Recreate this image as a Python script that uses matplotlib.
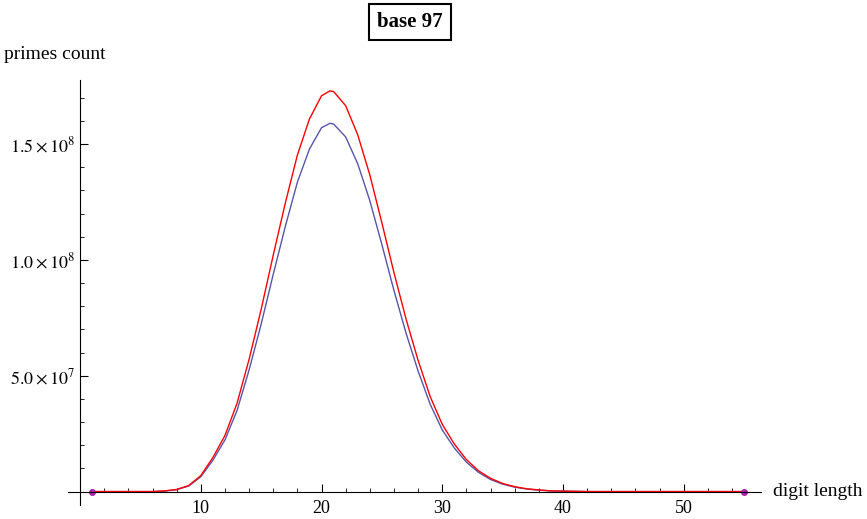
import numpy as np
import matplotlib.pyplot as plt
from matplotlib.ticker import FixedLocator

plt.rcParams['font.family'] = ['Liberation Serif', 'DejaVu Serif']
plt.rcParams['mathtext.fontset'] = 'stix'

digits = [1, 5, 6, 7, 8, 9, 10, 11, 12, 13, 14, 15, 16, 17, 18, 19, 20, 20.7, 21, 22, 23, 24,
          25, 26, 27, 28, 29, 30, 31, 32, 33, 34, 35, 36, 37, 38, 39, 40, 42, 55]
red = [0, 0, 0, 0.003, 0.009, 0.026, 0.069, 0.147, 0.242, 0.381, 0.571, 0.787, 1.021, 1.246,
       1.453, 1.609, 1.709, 1.730, 1.727, 1.666, 1.540, 1.367, 1.160, 0.945, 0.745, 0.566,
       0.410, 0.290, 0.205, 0.138, 0.090, 0.057, 0.035, 0.021, 0.012, 0.007, 0.003, 0.002, 0, 0]
blue = [0, 0, 0, 0.002, 0.008, 0.024, 0.064, 0.135, 0.223, 0.350, 0.525, 0.723, 0.938, 1.145,
        1.336, 1.479, 1.571, 1.590, 1.587, 1.531, 1.415, 1.256, 1.066, 0.868, 0.684, 0.520,
        0.377, 0.266, 0.188, 0.127, 0.083, 0.052, 0.032, 0.019, 0.011, 0.006, 0.003, 0.002, 0, 0]
end_points = [1, 55]

fig = plt.figure(figsize=(8.67, 5.19), dpi=100)
ax = fig.add_axes([68/867, 14/519, 693/867, 425/519])
ax.plot(digits, np.array(blue)*1e8, color='#5555aa', lw=1)
ax.plot(digits, np.array(red)*1e8, color='#ff0000', lw=1)
ax.plot(end_points, [0, 0], 'o', color='#aa22aa', ms=4)

ax.set_xlim(-1, 56.4)
ax.set_ylim(-0.058e8, 1.777e8)
for s in ['top', 'right']:
    ax.spines[s].set_visible(False)
ax.spines['left'].set_position(('data', 0))
ax.spines['bottom'].set_position(('data', 0))
ax.xaxis.set_major_locator(FixedLocator([10, 20, 30, 40, 50]))
ax.xaxis.set_minor_locator(FixedLocator([x for x in range(2, 56, 2) if x % 10]))
ax.yaxis.set_major_locator(FixedLocator([5e7, 1e8, 1.5e8]))
ax.yaxis.set_minor_locator(FixedLocator([y*1e7 for y in range(1, 18) if y % 5]))
ax.set_yticklabels([r'$5.0\times10^{7}$', r'$1.0\times10^{8}$', r'$1.5\times10^{8}$'])
ax.tick_params(which='major', length=6, direction='in', labelsize=13)
ax.tick_params(which='minor', length=3, direction='in')
ax.tick_params(axis='x', pad=6)

fig.text(773/867, 1-492/519, 'digit length', fontsize=14, va='center')
fig.text(4/867, 1-54/519, 'primes count', fontsize=14, va='center')
fig.text(410/867, 1-22/519, 'base 97', fontsize=15, fontweight='bold', ha='center', va='center',
         bbox=dict(boxstyle='square,pad=0.4', fc='white', ec='black', lw=1.5))
fig.savefig('out.png')
